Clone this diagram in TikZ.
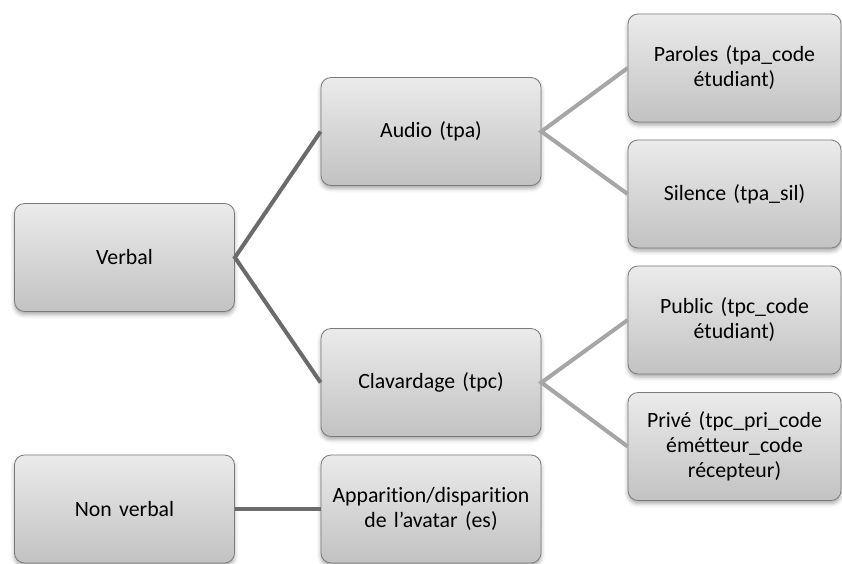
\documentclass[tikz,border=0pt]{standalone}
\usepackage{fontspec}
\setmainfont[Ligatures=NoCommon, WordSpace=0.6]{Carlito}
\usetikzlibrary{shadows.blur}
\definecolor{boxline}{HTML}{7A7A7A}
\definecolor{boxtop}{HTML}{EBEBEB}
\definecolor{boxbot}{HTML}{C2C2C2}
\definecolor{darklink}{HTML}{6B6B6B}
\definecolor{lightlink}{HTML}{A6A6A6}
\tikzset{
  catbox/.style={draw=boxline, line width=0.8pt, rounded corners=10pt,
    top color=boxtop, bottom color=boxbot, align=center,
    minimum width=220pt, minimum height=108pt, inner sep=2pt,
    text width=212pt, font=\fontsize{21.8}{25}\selectfont,
    blur shadow={shadow xshift=0pt, shadow yshift=-3pt, shadow blur radius=4pt, shadow opacity=35}},
  leafbox/.style={catbox, minimum width=213pt, text width=205pt},
  darkline/.style={draw=darklink, line width=4pt},
  lightline/.style={draw=lightlink, line width=4pt}
}
\begin{document}
\begin{tikzpicture}[x=1pt, y=-1pt]
\useasboundingbox (0,0) rectangle (842,563);
\node[catbox] (verbal) at (124.5,257.5) {Verbal};
\node[catbox] (audio) at (431,131.5) {Audio (tpa)};
\node[catbox] (clav) at (431,382.5) {Clavardage (tpc)};
\node[leafbox] (paroles) at (734.5,68) {Paroles (tpa\_code\\ étudiant)};
\node[leafbox] (silence) at (734.5,194) {Silence (tpa\_sil)};
\node[leafbox] (public) at (734.5,320) {Public (tpc\_code\\ étudiant)};
\node[leafbox] (prive) at (734.5,446.5) {Privé (tpc\_pri\_code\\ émétteur\_code\\ récepteur)};
\node[catbox] (nonverbal) at (124.5,509) {Non verbal};
\node[catbox] (appar) at (431,509) {Apparition/disparition\\ de l\symbol{"27}avatar (es)};
\draw[darkline] (audio.west) -- (verbal.east) -- (clav.west);
\draw[lightline] (paroles.west) -- (audio.east) -- (silence.west);
\draw[lightline] (public.west) -- (clav.east) -- (prive.west);
\draw[darkline] (nonverbal.east) -- (appar.west);
\end{tikzpicture}
\end{document}
